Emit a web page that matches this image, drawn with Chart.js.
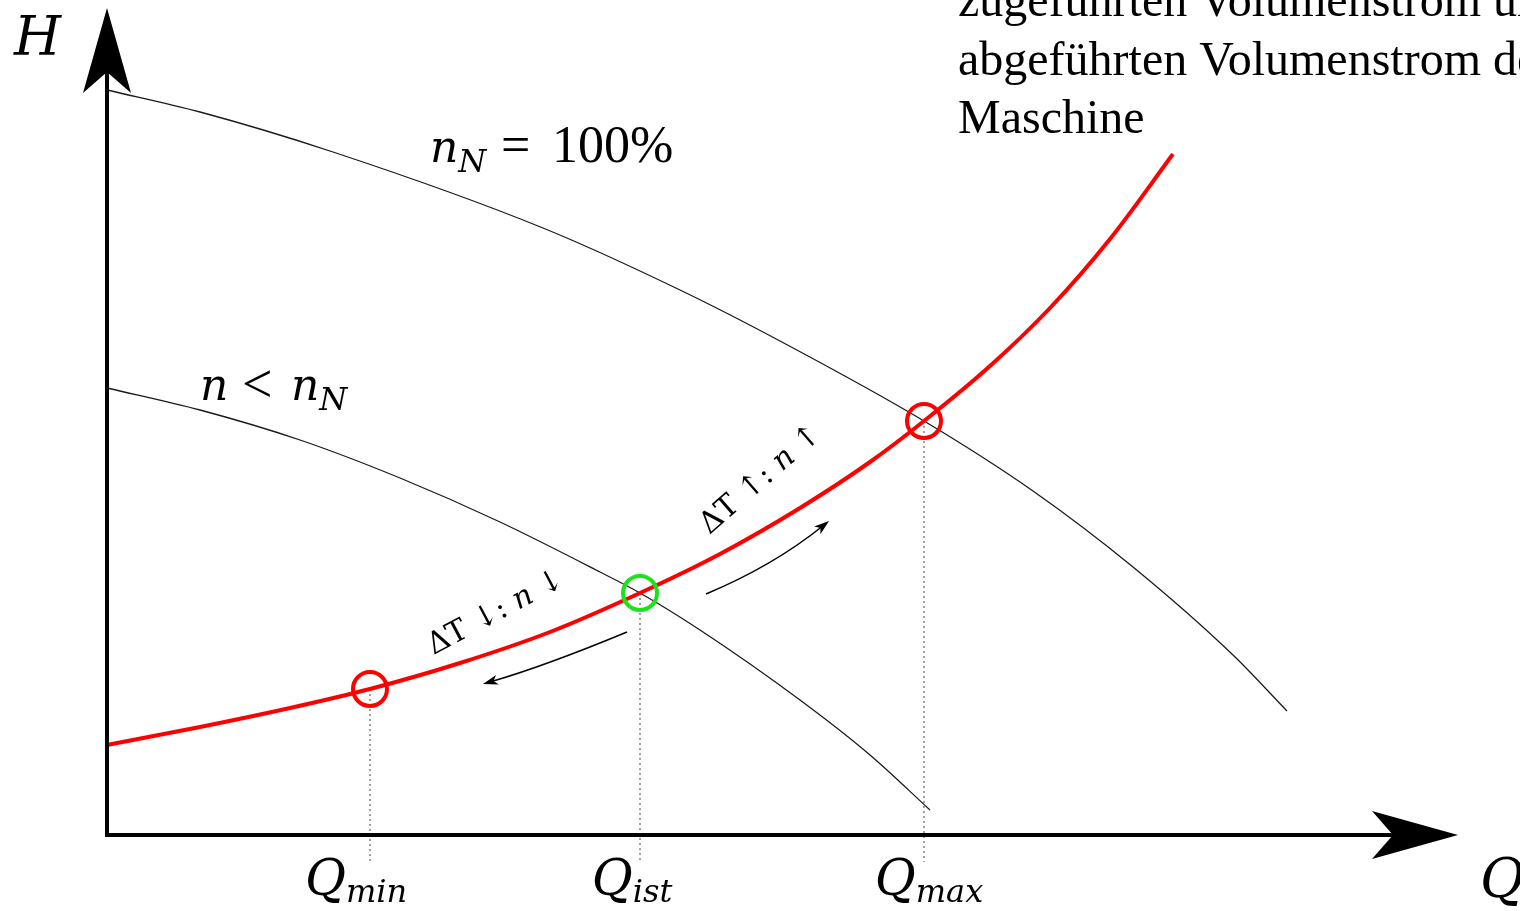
<!DOCTYPE html>
<html>
<head>
<meta charset="utf-8">
<script src="https://cdn.jsdelivr.net/npm/chart.js@4.4.1/dist/chart.umd.min.js"></script>
<style>
  html, body { margin: 0; padding: 0; background: #fff; }
  #wrap { width: 1520px; height: 911px; }
</style>
</head>
<body>
<div id="wrap"><canvas id="kennlinie"></canvas></div>
<script>
// Pumpenkennlinie bei Nenndrehzahl (Q, H in relativen Einheiten)
const qNenn = [0, 9.3, 22.6, 43.6, 57.3, 67.3, 81.7, 92.6, 102.6, 112.6, 118];
const hNenn = [74.5, 72.3, 68.3, 60.7, 54.5, 49.4, 41.4, 34.4, 26.8, 18.0, 12.4];

// Pumpenkennlinie bei reduzierter Drehzahl
const qReduziert = [0, 9.3, 19.3, 29.3, 39.3, 49.3, 53.3, 59.3, 69.3, 76.3, 82.3];
const hReduziert = [44.7, 42.5, 39.5, 35.7, 31.3, 26.3, 24.2, 20.5, 13.5, 8.0, 2.5];

// Anlagenkennlinie
const qAnlage = [0, 9.3, 18.3, 26.3, 35.3, 44.3, 53.3, 61.3, 69.3, 76.3, 81.7, 88.3, 94.3, 100.3, 106.6];
const hAnlage = [9.0, 10.8, 12.7, 14.6, 17.2, 20.3, 24.2, 28.1, 32.7, 37.3, 41.4, 46.9, 52.7, 59.6, 68.1];

// Betriebspunkte
const punktIndex = ['min', 'ist', 'max'];
const punktQ = [26.3, 53.3, 81.7];
const punktH = [14.6, 24.2, 41.4];

const Q_MIN = -10.7, Q_MAX = 141.3, H_MIN = -7.6, H_MAX = 83.5;
const LOT_ENDE = -2.7;   // Ende der gepunkteten Lote unter der Achse

const zuPunkten = (xs, ys) => xs.map((x, i) => ({ x, y: ys[i] }));

const MATH = '"DejaVu Serif", serif';
const TEXT = '"Liberation Serif", "Times New Roman", serif';

const punktFarben = ['#ff0000', '#1ee01e', '#ff0000'];
const labelVersatz = [-14, -8, 5];   // px, Q-Beschriftung gegenüber dem Lot

// Pfeile entlang der Anlagenkennlinie: Start, Kontrollpunkt, Ende
const pfeile = [
  { von: [52.0, 20.3], ctrl: [43.8, 16.9], bis: [37.6, 15.1] },
  { von: [59.9, 24.1], ctrl: [66.6, 26.9], bis: [72.2, 31.4] }
];
const pfeilTexte = [
  { at: [38.9, 22.2], winkel: -28, teile: ['ΔT ↓: ', 'n', ' ↓'] },
  { at: [65.4, 35.5], winkel: -41, teile: ['ΔT ↑: ', 'n', ' ↑'] }
];

function spitze(ctx, x, y, w, laenge, breite, kerbe) {
  ctx.save();
  ctx.translate(x, y);
  ctx.rotate(w);
  ctx.beginPath();
  ctx.moveTo(0, 0);
  ctx.lineTo(-laenge, breite);
  ctx.lineTo(-kerbe, 0);
  ctx.lineTo(-laenge, -breite);
  ctx.closePath();
  ctx.fill();
  ctx.restore();
}

function index(ctx, x, y, haupt, sub, gr, subGr, subDy) {
  ctx.font = 'italic ' + gr + 'px ' + MATH;
  ctx.fillText(haupt, x, y);
  const w = ctx.measureText(haupt).width;
  ctx.font = 'italic ' + subGr + 'px ' + MATH;
  ctx.fillText(sub, x + w, y + subDy);
  return w + ctx.measureText(sub).width;
}

const diagramm = {
  id: 'diagramm',
  afterDatasetsDraw(chart) {
    const { ctx, scales: { x, y } } = chart;
    const x0 = x.getPixelForValue(0), y0 = y.getPixelForValue(0);
    ctx.save();
    ctx.fillStyle = '#000';
    ctx.strokeStyle = '#000';

    // Achsen mit Pfeilspitzen
    const yTip = y.getPixelForValue(82.7), xTip = x.getPixelForValue(135.1);
    ctx.lineWidth = 4;
    ctx.beginPath();
    ctx.moveTo(x0, y0 + 2);
    ctx.lineTo(x0, yTip + 60);
    ctx.moveTo(x0 - 2, y0);
    ctx.lineTo(xTip - 60, y0);
    ctx.stroke();
    spitze(ctx, x0, yTip, -Math.PI / 2, 85, 24, 64);
    spitze(ctx, xTip, y0, 0, 86, 24, 65);

    // gebogene Pfeile
    ctx.lineWidth = 1.5;
    pfeile.forEach(p => {
      const a = [x.getPixelForValue(p.von[0]), y.getPixelForValue(p.von[1])];
      const c = [x.getPixelForValue(p.ctrl[0]), y.getPixelForValue(p.ctrl[1])];
      const b = [x.getPixelForValue(p.bis[0]), y.getPixelForValue(p.bis[1])];
      const w = Math.atan2(b[1] - c[1], b[0] - c[0]);
      ctx.beginPath();
      ctx.moveTo(a[0], a[1]);
      ctx.quadraticCurveTo(c[0], c[1], b[0] - 8 * Math.cos(w), b[1] - 8 * Math.sin(w));
      ctx.stroke();
      spitze(ctx, b[0], b[1], w, 15, 5, 11);
    });

    // Beschriftung der Pfeile
    ctx.textBaseline = 'middle';
    pfeilTexte.forEach(t => {
      const px = x.getPixelForValue(t.at[0]), py = y.getPixelForValue(t.at[1]);
      const fonts = ['30px ' + MATH, 'italic 30px ' + MATH, '30px ' + MATH];
      let breite = 0;
      const wl = t.teile.map((s, i) => { ctx.font = fonts[i]; const w = ctx.measureText(s).width; breite += w; return w; });
      ctx.save();
      ctx.translate(px, py);
      ctx.rotate(t.winkel * Math.PI / 180);
      let cx = -breite / 2;
      t.teile.forEach((s, i) => { ctx.font = fonts[i]; ctx.fillText(s, cx, 0); cx += wl[i]; });
      ctx.restore();
    });
    ctx.restore();
  },
  afterDraw(chart) {
    const { ctx, scales: { x } } = chart;
    ctx.save();
    ctx.fillStyle = '#000';
    ctx.textBaseline = 'alphabetic';

    // Achsenbeschriftungen
    ctx.font = 'italic 54px ' + MATH;
    ctx.fillText('H', 14, 55);
    ctx.fillText('Q', 1480, 897);

    // Q-Werte unter den Loten
    punktIndex.forEach((s, i) => {
      ctx.font = 'italic 50px ' + MATH;
      const w1 = ctx.measureText('Q').width;
      ctx.font = 'italic 32px ' + MATH;
      const w2 = ctx.measureText(s).width;
      const mitte = x.getPixelForValue(punktQ[i]) + labelVersatz[i];
      index(ctx, mitte - (w1 + w2) / 2, 895, 'Q', s, 50, 32, 7);
    });

    // Drehzahlkennzeichnung
    index(ctx, 430, 162, 'n', 'N', 44, 32, 10);
    ctx.font = '52px ' + TEXT;
    ctx.fillText('=', 501, 162);
    ctx.fillText('100%', 552, 162);

    ctx.font = 'italic 44px ' + MATH;
    ctx.fillText('n', 200, 400);
    ctx.font = '54px ' + TEXT;
    ctx.fillText('<', 242, 402);
    index(ctx, 291, 400, 'n', 'N', 44, 32, 10);

    // Erläuterungstext
    ctx.font = '48px ' + TEXT;
    ctx.fillText('zugeführten Volumenstrom und', 958, 16);
    ctx.fillText('abgeführten Volumenstrom der', 958, 75);
    ctx.fillText('Maschine', 958, 133);
    ctx.restore();
  }
};

const lote = punktQ.map((q, i) => ({
  data: [{ x: q, y: punktH[i] }, { x: q, y: LOT_ENDE }],
  showLine: true,
  borderColor: '#444',
  borderWidth: 1,
  borderDash: [2, 3],
  pointRadius: 0,
  order: 6
}));

new Chart(document.getElementById('kennlinie').getContext('2d'), {
  type: 'scatter',
  data: {
    datasets: [
      ...lote,
      {
        label: 'n_N = 100%',
        data: zuPunkten(qNenn, hNenn),
        showLine: true,
        borderColor: '#1a1a1a',
        borderWidth: 1.3,
        pointRadius: 0,
        cubicInterpolationMode: 'monotone',
        order: 5
      },
      {
        label: 'n < n_N',
        data: zuPunkten(qReduziert, hReduziert),
        showLine: true,
        borderColor: '#1a1a1a',
        borderWidth: 1.3,
        pointRadius: 0,
        cubicInterpolationMode: 'monotone',
        order: 4
      },
      {
        label: 'Anlagenkennlinie',
        data: zuPunkten(qAnlage, hAnlage),
        showLine: true,
        borderColor: '#ff0000',
        borderWidth: 4,
        pointRadius: 0,
        cubicInterpolationMode: 'monotone',
        order: 3
      },
      {
        label: 'Betriebspunkte',
        data: zuPunkten(punktQ, punktH),
        pointRadius: 17,
        pointBorderWidth: 4,
        pointBackgroundColor: 'rgba(0,0,0,0)',
        pointBorderColor: punktFarben,
        order: 1
      }
    ]
  },
  options: {
    responsive: true,
    maintainAspectRatio: false,
    animation: false,
    events: [],
    layout: { padding: 0, autoPadding: false },
    plugins: { legend: { display: false }, tooltip: { enabled: false } },
    scales: {
      x: { type: 'linear', min: Q_MIN, max: Q_MAX, display: false },
      y: { type: 'linear', min: H_MIN, max: H_MAX, display: false }
    }
  },
  plugins: [diagramm]
});
</script>
</body>
</html>
